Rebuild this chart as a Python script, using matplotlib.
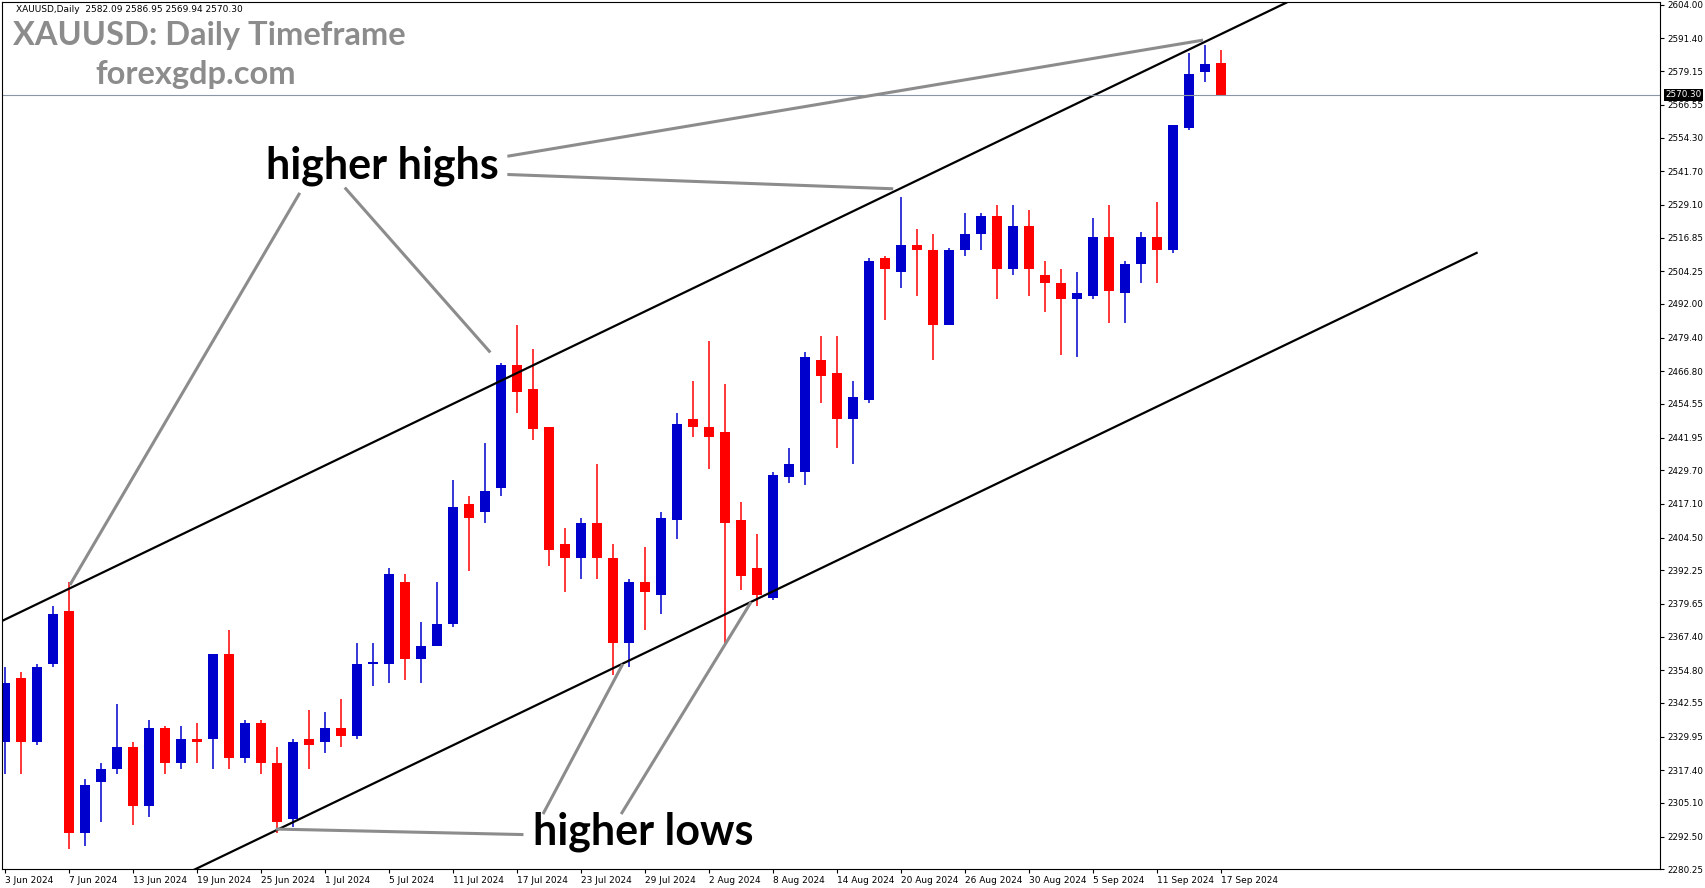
import matplotlib.pyplot as plt
import pandas as pd
import numpy as np

# daily candles
dates = pd.bdate_range("2024-06-03", "2024-09-17")
opens = [2328, 2352, 2328, 2357, 2377, 2294, 2313, 2318, 2326, 2304, 2333, 2320, 2329, 2329, 2361, 2322,
         2335, 2320, 2299, 2329, 2328, 2333, 2330, 2357, 2357, 2388, 2359, 2364, 2372, 2417, 2414, 2423,
         2469, 2460, 2446, 2402, 2397, 2410, 2397, 2365, 2388, 2383, 2411, 2449, 2446, 2444, 2411, 2393,
         2382, 2427, 2429, 2471, 2466, 2449, 2456, 2509, 2504, 2514, 2512, 2484, 2512, 2518, 2525, 2505,
         2521, 2503, 2500, 2494, 2495, 2517, 2496, 2507, 2517, 2512, 2558, 2579, 2582.09]
highs = [2356, 2354, 2357, 2379, 2388, 2314, 2320, 2342, 2328, 2336, 2334, 2334, 2335, 2361, 2370, 2336,
         2336, 2326, 2329, 2340, 2339, 2344, 2365, 2365, 2393, 2391, 2373, 2388, 2426, 2420, 2440, 2470,
         2484, 2475, 2446, 2408, 2412, 2432, 2402, 2389, 2401, 2414, 2451, 2463, 2478, 2462, 2418, 2406,
         2429, 2438, 2474, 2480, 2480, 2463, 2509, 2510, 2532, 2520, 2518, 2513, 2526, 2526, 2529, 2529,
         2527, 2508, 2505, 2504, 2524, 2529, 2508, 2519, 2530, 2559, 2586, 2589, 2586.95]
lows = [2316, 2316, 2327, 2356, 2288, 2289, 2298, 2316, 2297, 2300, 2316, 2318, 2320, 2318, 2318, 2320,
        2316, 2294, 2296, 2318, 2324, 2326, 2329, 2349, 2350, 2351, 2350, 2364, 2371, 2392, 2410, 2420,
        2451, 2441, 2394, 2384, 2389, 2389, 2353, 2356, 2370, 2376, 2404, 2442, 2430, 2365, 2385, 2379,
        2381, 2425, 2424, 2455, 2438, 2432, 2455, 2486, 2498, 2495, 2471, 2484, 2510, 2512, 2494, 2503,
        2495, 2489, 2473, 2472, 2494, 2485, 2485, 2500, 2500, 2511, 2557, 2575, 2569.94]
closes = [2350, 2328, 2356, 2376, 2294, 2312, 2318, 2326, 2304, 2333, 2320, 2329, 2328, 2361, 2322, 2335,
          2320, 2298, 2328, 2327, 2333, 2330, 2357, 2358, 2391, 2359, 2364, 2372, 2416, 2412, 2422, 2469,
          2459, 2445, 2400, 2397, 2410, 2397, 2365, 2388, 2384, 2412, 2447, 2446, 2442, 2410, 2390, 2383,
          2428, 2432, 2472, 2465, 2449, 2457, 2508, 2505, 2514, 2512, 2484, 2512, 2518, 2525, 2505, 2521,
          2505, 2500, 2494, 2496, 2517, 2497, 2507, 2517, 2512, 2559, 2578, 2582, 2570.30]

yticks = [2604.00, 2591.40, 2579.15, 2566.55, 2554.30, 2541.70, 2529.10, 2516.85, 2504.25, 2492.00,
          2479.40, 2466.80, 2454.55, 2441.95, 2429.70, 2417.10, 2404.50, 2392.25, 2379.65, 2367.40,
          2354.80, 2342.55, 2329.95, 2317.40, 2305.10, 2292.50, 2280.25]
last_price = 2570.30

# channel lines (bar index, price)
upper = ([-0.34, 80.1], [2372.9, 2604.8])
lower = ([11.56, 92.0], [2279.4, 2511.1])

fig = plt.figure(figsize=(17.05, 8.88), dpi=100)
ax = fig.add_axes([0.0013, 0.021, 0.9726, 0.9766])
x = np.arange(len(dates))
for i in x:
    o, h, l, c = opens[i], highs[i], lows[i], closes[i]
    col = "#0000cc" if c >= o else "#ff0000"
    ax.vlines(i, l, h, color=col, lw=1.1)
    ax.bar(i, abs(c - o) if abs(c - o) > 0.4 else 0.4, bottom=min(o, c), width=0.62, color=col)

ax.plot(*upper, color="black", lw=1.6)
ax.plot(*lower, color="black", lw=1.6)
ax.axhline(last_price, color="#8a96a6", lw=0.8)

ax.set_xlim(-0.2, 103.5)
ax.set_ylim(2280.25, 2605)
ax.yaxis.tick_right()
ax.set_yticks(yticks)
ax.set_yticklabels(["%.2f" % v for v in yticks], fontsize=6.3)
ax.set_xticks(x[::4])
xl = ax.set_xticklabels([d.strftime("%-d %b %Y") for d in dates[::4]], fontsize=6.5)
for t in xl:
    t.set_ha("left")
ax.tick_params(length=3, width=0.8, pad=2)
ax.text(1.003, last_price, "%.2f" % last_price, transform=ax.get_yaxis_transform(), fontsize=6.3,
        color="white", va="center", ha="left", bbox=dict(facecolor="black", edgecolor="none", pad=1))

# titles
fig.text(15 / 1568, 1 - 9 / 814, "XAUUSD,Daily  2582.09 2586.95 2569.94 2570.30", fontsize=6.5, va="center")
fig.text(12 / 1568, 1 - 33 / 814, "XAUUSD: Daily Timeframe", fontsize=23.5, fontweight="bold",
         color="#8c8c8c", family="Lato", va="center")
fig.text(88 / 1568, 1 - 68 / 814, "forexgdp.com", fontsize=23.5, fontweight="bold",
         color="#8c8c8c", family="Lato", va="center")
fig.text(245 / 1568, 1 - 152 / 814, "higher highs", fontsize=31, fontweight="bold", family="Lato", va="center")
fig.text(490 / 1568, 1 - 762 / 814, "higher lows", fontsize=31, fontweight="bold", family="Lato", va="center")

# pointer lines
segs = [((468, 143), (1105, 37)), ((468, 160), (820, 173)), ((275, 178), (65, 535)), ((318, 173), (450, 322)),
        ((480, 765), (255, 760)), ((500, 745), (572, 610)), ((572, 745), (690, 553))]
for (x0, y0), (x1, y1) in segs:
    fig.add_artist(plt.Line2D([x0 / 1568, x1 / 1568], [1 - y0 / 814, 1 - y1 / 814],
                              transform=fig.transFigure, color="#8c8c8c", lw=2.2))

fig.savefig("out.png", dpi=100)
